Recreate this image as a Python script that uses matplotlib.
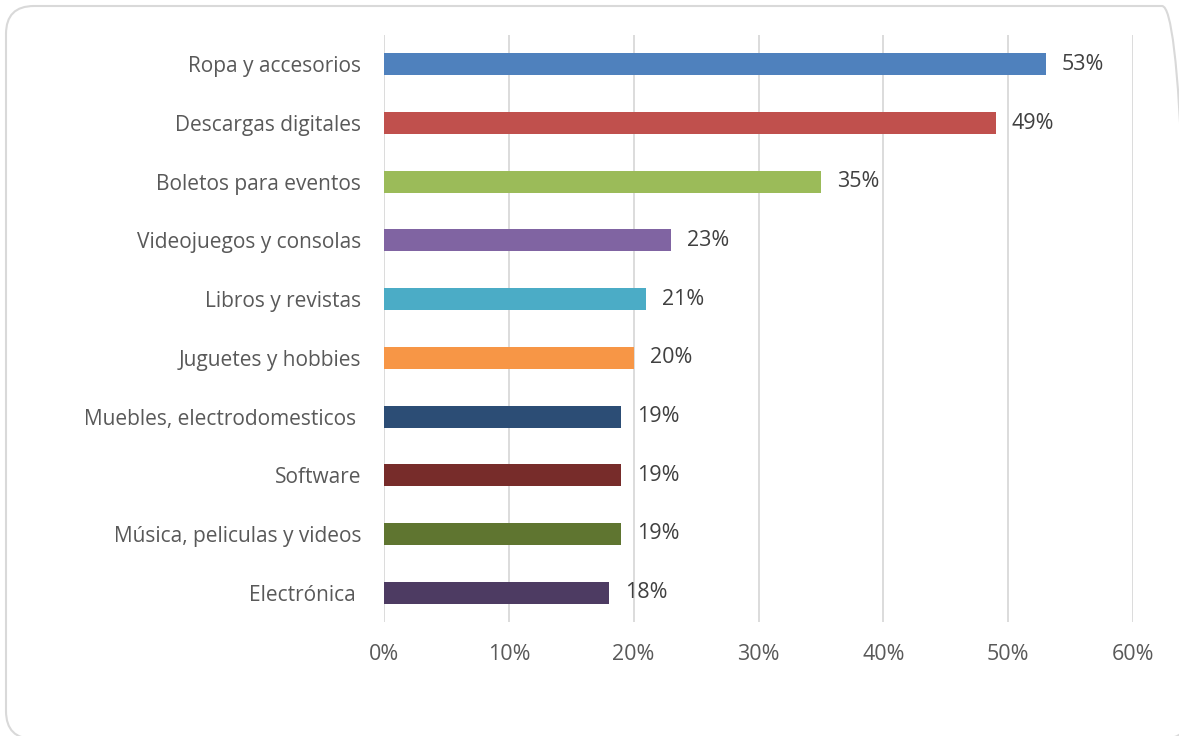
import matplotlib.pyplot as plt
from matplotlib.patches import FancyBboxPatch
from matplotlib.transforms import IdentityTransform
from matplotlib.ticker import FuncFormatter

categorias = ['Ropa y accesorios', 'Descargas digitales', 'Boletos para eventos',
              'Videojuegos y consolas', 'Libros y revistas', 'Juguetes y hobbies',
              'Muebles, electrodomesticos ', 'Software', 'Música, peliculas y videos',
              'Electrónica ']
valores = [53, 49, 35, 23, 21, 20, 19, 19, 19, 18]
colores = ['#4F81BD', '#C0504D', '#9BBB59', '#8064A2', '#4BACC6', '#F79646',
           '#2C4D75', '#772C2A', '#5F7530', '#4D3B62']
ticks = [0, 10, 20, 30, 40, 50, 60]

plt.rcParams['font.family'] = ['Open Sans', 'DejaVu Sans']

W, H = 1179, 736
fig = plt.figure(figsize=(W / 100, H / 100), dpi=100)

# rounded frame around the whole chart (pixel coordinates)
frame = FancyBboxPatch((6, -3), 1184, 733,
                       boxstyle='round,pad=0,rounding_size=28',
                       transform=IdentityTransform(), facecolor='none',
                       edgecolor='#d9d9d9', linewidth=1.5, zorder=-1)
fig.patches.append(frame)

ax = fig.add_axes([384 / W, 1 - 622 / H, (1133 - 384) / W, (622 - 35) / H])
ax.set_facecolor('none')

y = list(range(len(categorias)))
ax.barh(y, valores, height=0.375, color=colores, zorder=3)

for yi, v in zip(y, valores):
    ax.text(v + 1.3, yi, f'{v}%', va='center', ha='left', fontsize=15.5, color='#404040')

ax.set_xlim(0, 60)
ax.set_ylim(len(categorias) - 0.5, -0.5)
ax.set_xticks(ticks)
ax.xaxis.set_major_formatter(FuncFormatter(lambda x, p: f'{x:.0f}%'))
ax.set_yticks(y)
ax.set_yticklabels(categorias)
ax.tick_params(axis='both', length=0, labelcolor='#595959')
ax.tick_params(axis='x', pad=16, labelsize=15.5)
ax.tick_params(axis='y', pad=16.5, labelsize=15)

ax.grid(axis='x', color='#d9d9d9', linewidth=1.3, zorder=0)
for s in ax.spines.values():
    s.set_visible(False)

fig.savefig('out.png', dpi=100)
